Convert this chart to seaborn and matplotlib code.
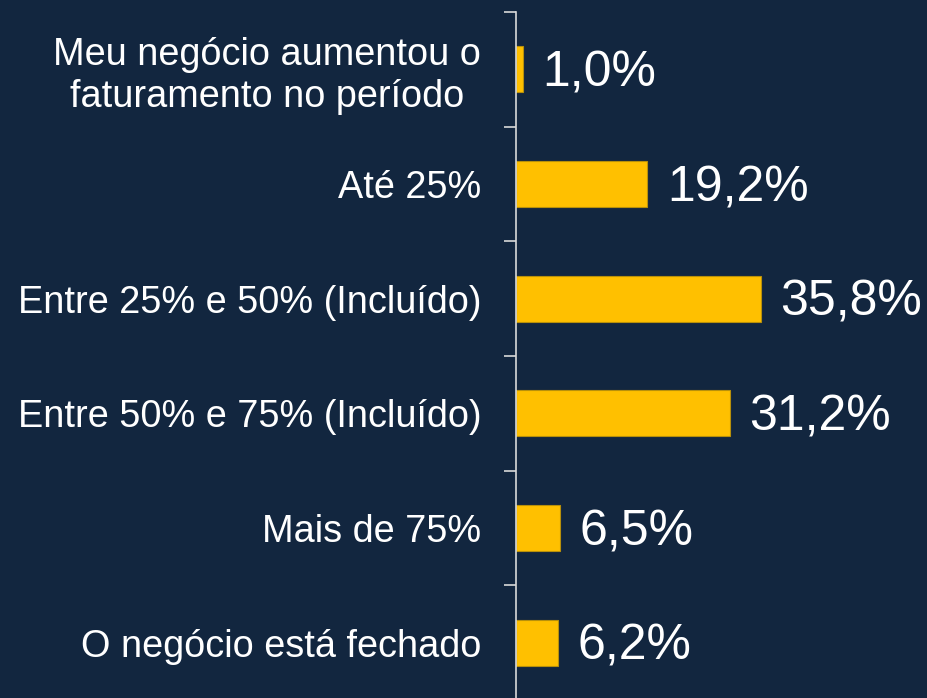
"""
Horizontal bar chart: queda de faturamento (dark slide style).
Saves: out.png
"""
import matplotlib.pyplot as plt
import numpy as np
import pandas as pd
import seaborn as sns

BG = "#12263F"
BAR = "#FFC000"
AXIS = "#D9D9D9"

categories = [
    "Meu negócio aumentou o\nfaturamento no período",
    "Até 25%",
    "Entre 25% e 50% (Incluído)",
    "Entre 50% e 75% (Incluído)",
    "Mais de 75%",
    "O negócio está fechado",
]
values = [1.0, 19.2, 35.8, 31.2, 6.5, 6.2]
value_labels = ["1,0%", "19,2%", "35,8%", "31,2%", "6,5%", "6,2%"]


def main():
    sns.set_style("white")
    plt.rcParams["font.family"] = ["Liberation Sans", "DejaVu Sans"]

    df = pd.DataFrame({"categoria": categories, "valor": values})

    fig = plt.figure(figsize=(9.28, 6.98), dpi=100, facecolor=BG)
    ax = fig.add_axes([0.556, -0.003, 0.444, 0.986])
    ax.set_facecolor(BG)

    sns.barplot(
        data=df, x="valor", y="categoria", orient="h",
        color=BAR, saturation=1, width=0.4,
        edgecolor="#B8900A", linewidth=0.8, ax=ax,
    )

    ax.set_xlim(0, 60.2)
    ax.set_ylim(len(categories) - 0.5, -0.5)
    ax.set_xlabel("")
    ax.set_ylabel("")
    ax.set_xticks([])

    # category labels on major ticks (no tick mark), separators on minor ticks
    ax.set_yticks(np.arange(len(categories)))
    ax.set_yticklabels(categories, fontsize=27.3, color="white")
    ax.get_yticklabels()[0].set_multialignment("center")
    ax.set_yticks(np.arange(len(categories) + 1) - 0.5, minor=True)
    ax.tick_params(axis="y", which="major", left=True, length=0, pad=25)
    ax.tick_params(axis="y", which="minor", left=True, length=8.6, width=1.2,
                   color=AXIS, direction="out")

    for side in ["top", "right", "bottom"]:
        ax.spines[side].set_visible(False)
    ax.spines["left"].set_color(AXIS)
    ax.spines["left"].set_linewidth(1.2)

    for i, (v, lab) in enumerate(zip(values, value_labels)):
        ax.annotate(lab, xy=(v, i), xytext=(14, -3), textcoords="offset points",
                    ha="left", va="center", fontsize=36, color="white",
                    annotation_clip=False)

    fig.savefig("out.png", dpi=100, facecolor=BG)
    plt.close(fig)


if __name__ == "__main__":
    main()
